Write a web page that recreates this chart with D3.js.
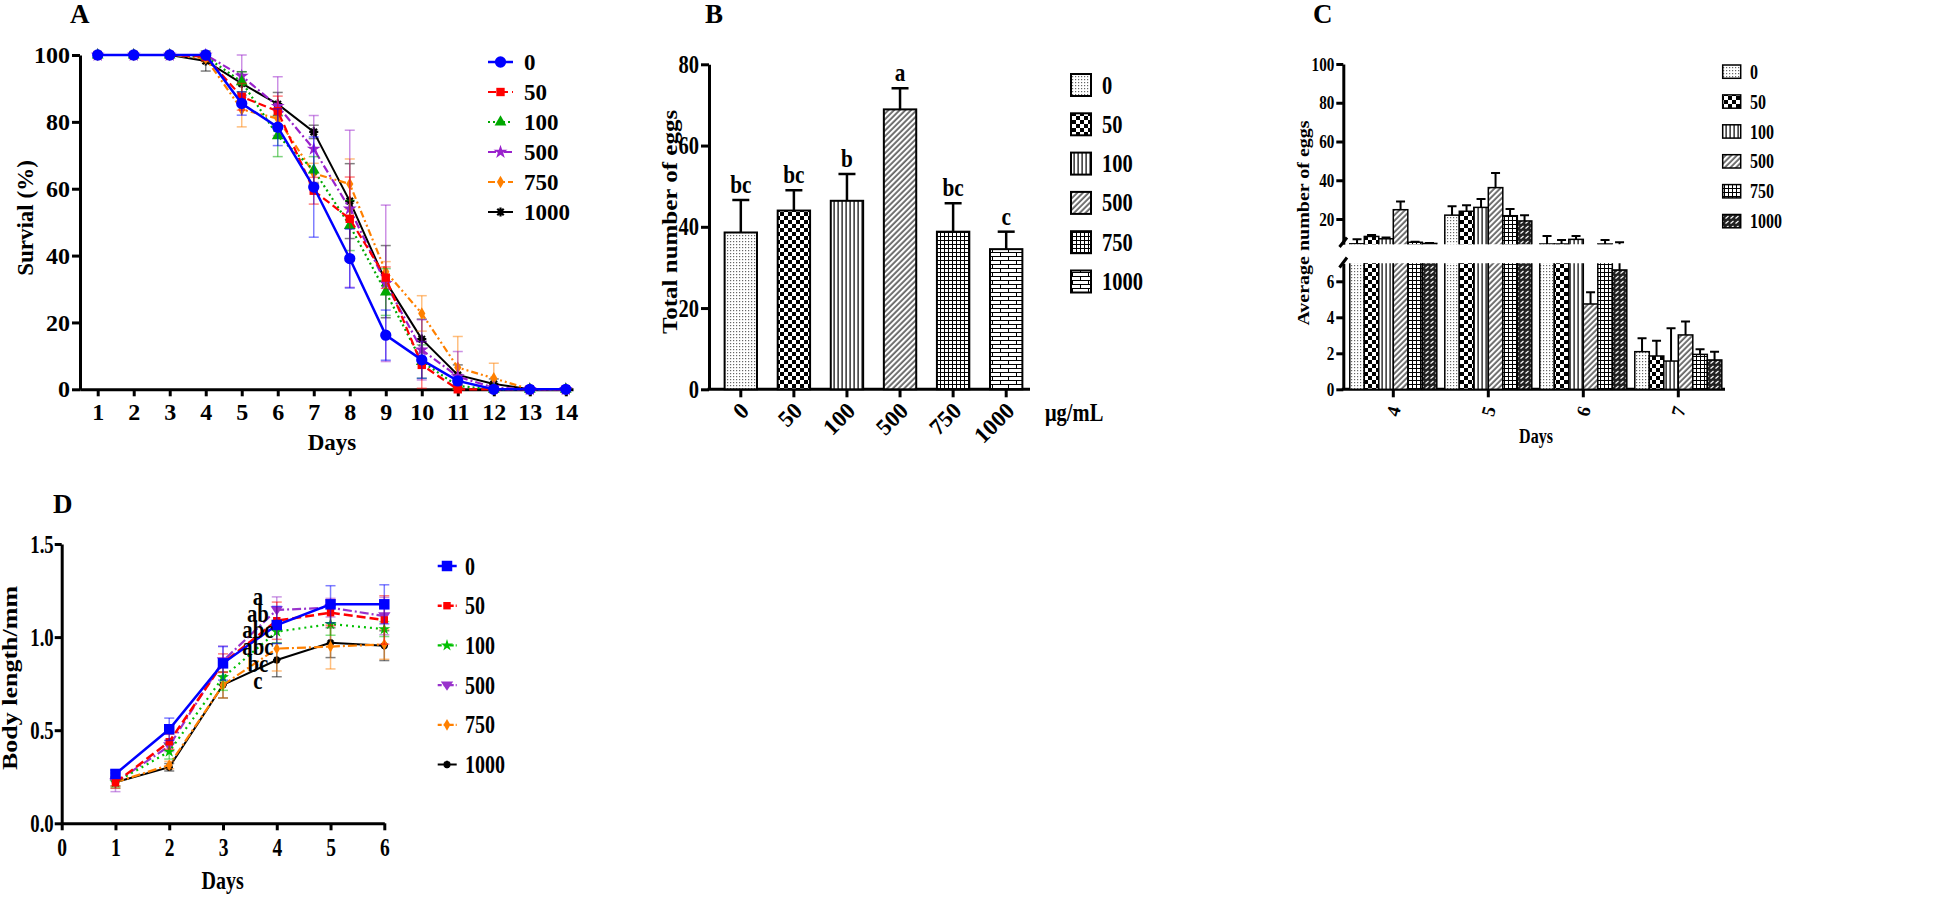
<!DOCTYPE html>
<html>
<head>
<meta charset="utf-8">
<script src="https://cdn.jsdelivr.net/npm/d3@7"></script>
<style>
  body { margin: 0; background: #fff; }
  svg text { font-family: "Liberation Serif", "Times New Roman", serif; font-weight: bold; fill: #000; }
</style>
</head>
<body>
<svg id="fig" width="1946" height="902"></svg>
<script>
const concs = ["0", "50", "100", "500", "750", "1000"];

// ---- A: survival (%) per day
const daysA = [1, 2, 3, 4, 5, 6, 7, 8, 9, 10, 11, 12, 13, 14];
const surv0 = [100, 100, 100, 100, 85.5, 78.4, 60.5, 39.1, 16.2, 8.8, 2.5, 0, 0, 0];
const surv0Err = [0, 0, 0, 0, 3.5, 5.5, 15, 8.8, 7.5, 5.5, 1.2, 0, 0, 0];
const surv50 = [100, 100, 100, 99.5, 87.5, 83.2, 59.4, 51, 33.4, 7.3, 0, 0, 0, 0];
const surv50Err = [0, 0, 0, 0.5, 4, 4.5, 4, 12.5, 3.2, 7, 0.5, 0, 0, 0];
const surv100 = [100, 100, 100, 99.5, 92, 75.8, 65.6, 49, 29.1, 8.3, 1, 0, 0, 0];
const surv100Err = [0, 0, 0, 0.5, 3, 6.2, 4, 7.5, 7, 5, 1, 0, 0, 0];
const surv500 = [100, 100, 100, 100, 93.7, 84.7, 71.9, 54, 31.7, 11.8, 3.8, 0.5, 0, 0];
const surv500Err = [0, 0, 0, 0, 6.3, 8.8, 10, 23.5, 23.4, 9, 7.5, 0.5, 0, 0];
const surv750 = [100, 100, 100, 99, 83.7, 81, 64.6, 61.4, 35.2, 22.7, 6.5, 3.3, 0, 0];
const surv750Err = [0, 0, 0, 1, 5.2, 3, 3, 7.5, 3, 5.3, 9.3, 4.5, 0, 0];
const surv1000 = [100, 100, 100, 98.2, 91.5, 85.3, 77, 56.3, 32.2, 15, 4.3, 1.6, 0, 0];
const surv1000Err = [0, 0, 0, 3, 3.5, 3.5, 2, 11.2, 10.8, 6, 3, 1.5, 0, 0];

// ---- B: total number of eggs
const eggTotal = [38.6, 44, 46.4, 68.9, 38.8, 34.5];
const eggTotalErr = [8, 5, 6.6, 5.2, 7, 4.3];
const eggLetters = ["bc", "bc", "b", "a", "bc", "c"];

// ---- C: average number of eggs per day
const daysC = ["4", "5", "6", "7"];
const eggs0 = [7.2, 22, 7.1, 2.09], eggs0Err = [2.4, 4.6, 4.1, 0.74];
const eggs50 = [11, 24, 7.1, 1.85], eggs50Err = [0.8, 3.1, 2.1, 0.85];
const eggs100 = [9.8, 26, 9.5, 1.57], eggs100Err = [0.6, 4.3, 1.7, 1.82];
const eggs500 = [24.8, 36.2, 4.74, 3.02], eggs500Err = [4.2, 7.5, 0.65, 0.74];
const eggs750 = [8, 21.7, 7.1, 1.94], eggs750Err = [0.3, 3.5, 2.1, 0.28];
const eggs1000 = [7.4, 19, 6.63, 1.63], eggs1000Err = [0.2, 2.9, 1.4, 0.46];

// ---- D: body length (mm)
const daysD = [1, 2, 3, 4, 5, 6];
const len0 = [0.265, 0.505, 0.859, 1.065, 1.176, 1.176], len0Err = [0.02, 0.06, 0.09, 0.1, 0.1, 0.105];
const len50 = [0.218, 0.438, 0.86, 1.088, 1.131, 1.092], len50Err = [0.03, 0.04, 0.05, 0.1, 0.07, 0.13];
const len100 = [0.22, 0.385, 0.784, 1.029, 1.07, 1.043], len100Err = [0.03, 0.04, 0.07, 0.06, 0.06, 0.04];
const len500 = [0.22, 0.415, 0.872, 1.146, 1.158, 1.113], len500Err = [0.05, 0.03, 0.08, 0.07, 0.05, 0.1];
const len750 = [0.22, 0.313, 0.743, 0.938, 0.949, 0.961], len750Err = [0.02, 0.02, 0.07, 0.12, 0.12, 0.08];
const len1000 = [0.22, 0.301, 0.743, 0.877, 0.97, 0.954], len1000Err = [0.02, 0.02, 0.07, 0.09, 0.08, 0.08];
const lenLetters = ["a", "ab", "abc", "abc", "bc", "c"];

const svg = d3.select("#fig");
svg.append("rect").attr("width", 1946).attr("height", 902).attr("fill", "#fff");
const defs = svg.append("defs");

// asterisk marker (stroked)
const symAsterisk = {
    draw(ctx, size) {
        const r = Math.sqrt(size) / 1.7;
        for (let k = 0; k < 4; k++) {
            const a = k * Math.PI / 4;
            ctx.moveTo(r * Math.cos(a), r * Math.sin(a));
            ctx.lineTo(-r * Math.cos(a), -r * Math.sin(a));
        }
    }
};
const symTriDown = {
    draw(ctx, size) {
        const r = Math.sqrt(size / 1.3);
        ctx.moveTo(-r, -r * 0.6);
        ctx.lineTo(r, -r * 0.6);
        ctx.lineTo(0, r * 0.9);
        ctx.closePath();
    }
};

function txt(g, x, y, s, size, opt = {}) {
    const t = g.append("text")
        .attr("font-size", size)
        .attr("text-anchor", opt.anchor || "start")
        .attr("transform", `translate(${x},${y})` + (opt.rotate ? ` rotate(${opt.rotate})` : "") +
            ` scale(${opt.sx || 1},${opt.sy || 1})`)
        .text(s);
    if (opt.dy) t.attr("dy", opt.dy);
    return t;
}

function styleAxis(sel, size, sx, sw) {
    sel.attr("font-family", null).attr("font-size", null);
    sel.selectAll("path.domain").attr("stroke-width", sw);
    sel.selectAll(".tick line").attr("stroke-width", sw);
    sel.selectAll(".tick text").attr("font-size", size);
    if (sx !== 1) {
        sel.selectAll(".tick text").each(function () {
            const t = d3.select(this);
            t.attr("x", +t.attr("x") / sx).attr("transform", `scale(${sx},1)`);
        });
    }
}

// patterns for bar charts
function pattern(id, w, h, draw, transform) {
    const p = defs.append("pattern").attr("id", id)
        .attr("patternUnits", "userSpaceOnUse").attr("width", w).attr("height", h);
    if (transform) p.attr("patternTransform", transform);
    p.append("rect").attr("width", w).attr("height", h).attr("fill", "#fff");
    draw(p);
}
pattern("p0", 3, 3, p => p.append("rect").attr("x", 1).attr("y", 1).attr("width", 1.2).attr("height", 1.2).attr("fill", "#666"));
pattern("p50", 8, 8, p => {
    p.append("rect").attr("width", 4).attr("height", 4);
    p.append("rect").attr("x", 4).attr("y", 4).attr("width", 4).attr("height", 4);
});
pattern("p100", 4, 4, p => p.append("rect").attr("x", 1.5).attr("width", 1.2).attr("height", 4));
pattern("p500", 4, 4, p => p.append("rect").attr("x", 1.5).attr("width", 1.1).attr("height", 4), "rotate(45)");
pattern("p750", 4, 4, p => {
    p.append("rect").attr("width", 4).attr("height", 1);
    p.append("rect").attr("width", 1).attr("height", 4);
});
pattern("p1000", 16, 8, p => p.append("path")
    .attr("d", "M0,0.5H16M0,4.5H16M0.5,0.5V4.5M8.5,4.5V8")
    .attr("stroke", "#000").attr("stroke-width", 1).attr("fill", "none"));
pattern("pc1000", 5, 5, p => {
    p.select("rect").attr("fill", "#222");
    p.append("path").attr("d", "M0.5,3.5L3.5,1").attr("stroke", "#fff").attr("stroke-width", 1.1);
});
const patsB = ["p0", "p50", "p100", "p500", "p750", "p1000"];
const patsC = ["p0", "p50", "p100", "p500", "p750", "pc1000"];

// ================= A =================
const gA = svg.append("g");
const xA = d3.scaleLinear().domain([0.5, 14.2]).range([79.7, 573]);
const yA = d3.scaleLinear().domain([0, 100]).range([389.3, 55]);

const seriesA = [
    { name: "0", v: surv0, e: surv0Err, color: "#0000ff", sym: d3.symbolCircle, size: 100, dash: null, w: 2.5 },
    { name: "50", v: surv50, e: surv50Err, color: "#ff0000", sym: d3.symbolSquare, size: 70, dash: "8,4", w: 2.2 },
    { name: "100", v: surv100, e: surv100Err, color: "#00a800", sym: d3.symbolTriangle, size: 60, dash: "2,3", w: 2.2 },
    { name: "500", v: surv500, e: surv500Err, color: "#9922cc", sym: d3.symbolStar, size: 60, dash: "8,3,2,3", w: 2.2 },
    { name: "750", v: surv750, e: surv750Err, color: "#ff8000", sym: d3.symbolDiamond, size: 45, dash: "7,3,2,3,2,3", w: 2.2 },
    { name: "1000", v: surv1000, e: surv1000Err, color: "#000000", sym: symAsterisk, size: 60, dash: null, w: 2, stroke: true }
];

gA.append("g").attr("transform", "translate(0,389.3)")
    .call(d3.axisBottom(xA).tickValues(daysA).tickSize(7).tickPadding(7).tickSizeOuter(0))
    .call(styleAxis, 24, 1, 3);
gA.append("g").attr("transform", "translate(80,0)")
    .call(d3.axisLeft(yA).tickValues([0, 20, 40, 60, 80, 100]).tickSize(8).tickPadding(2).tickSizeOuter(0))
    .call(styleAxis, 24, 1, 3);

function drawMarker(g, s, x, y) {
    const p = g.append("path")
        .attr("d", d3.symbol(s.sym, s.size)())
        .attr("transform", `translate(${x},${y})`);
    if (s.stroke) p.attr("fill", "none").attr("stroke", s.color).attr("stroke-width", 2.2);
    else p.attr("fill", s.color);
}

function drawLineSeries(g, series, days, x, y, cap) {
    series.slice().reverse().forEach(s => {
        const pts = days.map((d, i) => ({ d, v: s.v[i], e: s.e[i] }));
        const eg = g.append("g").attr("stroke", s.color).attr("stroke-opacity", 0.5).attr("stroke-width", 1.5);
        pts.filter(p => p.e > 0).forEach(p => {
            const cx = x(p.d), lo = y(Math.max(0, p.v - p.e)), hi = y(p.v + p.e);
            eg.append("line").attr("x1", cx).attr("x2", cx).attr("y1", lo).attr("y2", hi);
            eg.append("line").attr("x1", cx - cap).attr("x2", cx + cap).attr("y1", hi).attr("y2", hi);
            eg.append("line").attr("x1", cx - cap).attr("x2", cx + cap).attr("y1", lo).attr("y2", lo);
        });
        g.append("path").datum(pts)
            .attr("fill", "none").attr("stroke", s.color).attr("stroke-width", s.w)
            .attr("stroke-dasharray", s.dash)
            .attr("d", d3.line().x(p => x(p.d)).y(p => y(p.v)));
        pts.forEach(p => drawMarker(g, s, x(p.d), y(p.v)));
    });
}
drawLineSeries(gA, seriesA, daysA, xA, yA, 5);

seriesA.forEach((s, i) => {
    const cy = 62 + i * 30;
    gA.append("line").attr("x1", 488).attr("x2", 513).attr("y1", cy).attr("y2", cy)
        .attr("stroke", s.color).attr("stroke-width", s.w).attr("stroke-dasharray", s.dash);
    drawMarker(gA, s, 500.5, cy);
    txt(gA, 524, cy + 8, s.name, 23);
});
txt(gA, 70, 23, "A", 27);
txt(gA, 332, 450, "Days", 23, { anchor: "middle" });
txt(gA, 25, 218, "Survial (%)", 23, { anchor: "middle", rotate: -90, dy: "0.35em" });

// ================= B =================
const gB = svg.append("g");
const xB = d3.scaleBand().domain(concs).range([714, 1033]).paddingInner(0.39).paddingOuter(0.2);
const yB = d3.scaleLinear().domain([0, 80]).range([389.3, 64.3]);

gB.append("g").attr("transform", "translate(709,0)")
    .call(d3.axisLeft(yB).tickValues([0, 20, 40, 60, 80]).tickSize(8).tickPadding(2).tickSizeOuter(0))
    .call(styleAxis, 25, 0.82, 3);
const axB = gB.append("g").attr("transform", "translate(0,389.3)")
    .call(d3.axisBottom(xB).tickSize(8).tickSizeOuter(0))
    .call(styleAxis, 23, 1, 3);
axB.select("path.domain").remove();
axB.selectAll(".tick text").attr("text-anchor", "end").attr("x", 0).attr("y", 0)
    .attr("dy", "0.35em").attr("transform", "translate(4,17) rotate(-45)");
gB.append("line").attr("x1", 707.5).attr("x2", 1030).attr("y1", 389.3).attr("y2", 389.3)
    .attr("stroke", "#000").attr("stroke-width", 3);

const barsB = concs.map((c, i) => ({ c, v: eggTotal[i], e: eggTotalErr[i], lab: eggLetters[i], pat: patsB[i] }));
barsB.forEach(b => {
    const cx = xB(b.c) + xB.bandwidth() / 2, top = yB(b.v + b.e);
    gB.append("line").attr("x1", cx).attr("x2", cx).attr("y1", yB(b.v)).attr("y2", top)
        .attr("stroke", "#000").attr("stroke-width", 2.5);
    gB.append("line").attr("x1", cx - 8.5).attr("x2", cx + 8.5).attr("y1", top).attr("y2", top)
        .attr("stroke", "#000").attr("stroke-width", 2.5);
    gB.append("rect").attr("x", xB(b.c)).attr("width", xB.bandwidth())
        .attr("y", yB(b.v)).attr("height", yB(0) - yB(b.v))
        .attr("fill", `url(#${b.pat})`).attr("stroke", "#000").attr("stroke-width", 2);
    txt(gB, cx, top - 7, b.lab, 25, { anchor: "middle", sx: 0.85 });
});
concs.forEach((c, i) => {
    const cy = 85 + i * 39.3;
    gB.append("rect").attr("x", 1071).attr("y", cy - 11).attr("width", 20).attr("height", 22)
        .attr("fill", `url(#${patsB[i]})`).attr("stroke", "#000").attr("stroke-width", 2);
    txt(gB, 1102, cy + 8.5, c, 25, { sx: 0.82 });
});
txt(gB, 705, 23, "B", 27);
txt(gB, 1045, 421, "μg/mL", 25, { sx: 0.82 });
txt(gB, 670, 222, "Total number of eggs", 25, { anchor: "middle", rotate: -90, dy: "0.35em", sy: 0.85 });

// ================= C =================
const gC = svg.append("g");
const xC = d3.scaleBand().domain(daysC).range([1345.8, 1725.8]).paddingInner(0.084).paddingOuter(0.042);
const xCi = d3.scaleBand().domain(concs).range([0, xC.bandwidth()]);
const yCl = d3.scaleLinear().domain([0, 7]).range([389.3, 263.3]);
const yCu = d3.scaleLinear().domain([7, 100]).range([244.2, 64]);

gC.append("g").attr("transform", "translate(1343.3,0)")
    .call(d3.axisLeft(yCl).tickValues([0, 2, 4, 6]).tickFormat(d3.format("d")).tickSize(7).tickPadding(2).tickSizeOuter(0))
    .call(styleAxis, 19, 0.8, 3);
gC.append("g").attr("transform", "translate(1343.3,0)")
    .call(d3.axisLeft(yCu).tickValues([20, 40, 60, 80, 100]).tickFormat(d3.format("d")).tickSize(7).tickPadding(2).tickSizeOuter(0))
    .call(styleAxis, 19, 0.8, 3);
const axC = gC.append("g").attr("transform", "translate(0,389.3)")
    .call(d3.axisBottom(xC).tickSize(8).tickSizeOuter(0))
    .call(styleAxis, 19, 1, 3);
axC.select("path.domain").remove();
axC.selectAll(".tick text").attr("text-anchor", "middle").attr("x", 0).attr("y", 0)
    .attr("dy", "0.35em").attr("transform", "translate(0,22) rotate(-75)");
gC.append("line").attr("x1", 1341.8).attr("x2", 1725).attr("y1", 389.3).attr("y2", 389.3)
    .attr("stroke", "#000").attr("stroke-width", 3);
// axis break marks
gC.append("path").attr("d", "M1339.5,247L1347,237.5M1339.5,267.5L1347,257.5")
    .attr("stroke", "#000").attr("stroke-width", 3).attr("fill", "none");

defs.append("clipPath").attr("id", "clipCl").append("rect")
    .attr("x", 1330).attr("y", 263.3).attr("width", 420).attr("height", 135);
defs.append("clipPath").attr("id", "clipCu").append("rect")
    .attr("x", 1330).attr("y", 50).attr("width", 420).attr("height", 194.2);

const seriesC = [
    { v: eggs0, e: eggs0Err }, { v: eggs50, e: eggs50Err }, { v: eggs100, e: eggs100Err },
    { v: eggs500, e: eggs500Err }, { v: eggs750, e: eggs750Err }, { v: eggs1000, e: eggs1000Err }
];
const barsC = [];
daysC.forEach((d, j) => concs.forEach((c, i) =>
    barsC.push({ d, c, v: seriesC[i].v[j], e: seriesC[i].e[j], pat: patsC[i] })));

[{ y: yCl, clip: "clipCl", upper: false }, { y: yCu, clip: "clipCu", upper: true }].forEach(seg => {
    const g = gC.append("g").attr("clip-path", `url(#${seg.clip})`);
    barsC.forEach(b => {
        const x0 = xC(b.d) + xCi(b.c), w = xCi.bandwidth(), cx = x0 + w / 2;
        const top = seg.y(b.v + b.e);
        g.append("line").attr("x1", cx).attr("x2", cx).attr("y1", seg.y(b.v)).attr("y2", top)
            .attr("stroke", "#000").attr("stroke-width", 2);
        g.append("line").attr("x1", cx - 4.5).attr("x2", cx + 4.5).attr("y1", top).attr("y2", top)
            .attr("stroke", "#000").attr("stroke-width", 2);
        if (seg.upper && b.v <= 7) return;
        const yb = seg.upper ? seg.y(7) + 4 : seg.y(0);
        g.append("rect").attr("x", x0).attr("width", w)
            .attr("y", seg.y(b.v)).attr("height", yb - seg.y(b.v))
            .attr("fill", `url(#${b.pat})`).attr("stroke", "#000").attr("stroke-width", 1.5);
    });
});
concs.forEach((c, i) => {
    const cy = 71.7 + i * 29.9;
    gC.append("rect").attr("x", 1722.7).attr("y", cy - 6.7).attr("width", 18).attr("height", 13.3)
        .attr("fill", `url(#${patsC[i]})`).attr("stroke", "#000").attr("stroke-width", 1.5);
    txt(gC, 1750, cy + 7, c, 20, { sx: 0.8 });
});
txt(gC, 1313, 23, "C", 27);
txt(gC, 1536, 443, "Days", 20, { anchor: "middle", sx: 0.8 });
txt(gC, 1303, 223, "Average number of eggs", 20, { anchor: "middle", rotate: -90, dy: "0.35em", sy: 0.85 });

// ================= D =================
const gD = svg.append("g");
const xD = d3.scaleLinear().domain([0, 6]).range([61.7, 384.3]);
const yD = d3.scaleLinear().domain([0, 1.5]).range([823.3, 544]);

gD.append("g").attr("transform", "translate(0,823.3)")
    .call(d3.axisBottom(xD).tickValues([0, 1, 2, 3, 4, 5, 6]).tickFormat(d3.format("d")).tickSize(7).tickPadding(8).tickSizeOuter(0))
    .call(styleAxis, 25, 0.78, 3);
gD.append("g").attr("transform", "translate(61.7,0)")
    .call(d3.axisLeft(yD).tickValues([0, 0.5, 1, 1.5]).tickFormat(d3.format(".1f")).tickSize(7).tickPadding(1).tickSizeOuter(0))
    .call(styleAxis, 25, 0.75, 3);

const seriesD = [
    { name: "0", v: len0, e: len0Err, color: "#0000ff", sym: d3.symbolSquare, size: 110, dash: null, w: 2.5 },
    { name: "50", v: len50, e: len50Err, color: "#ff0000", sym: d3.symbolSquare, size: 55, dash: "9,4", w: 2.5 },
    { name: "100", v: len100, e: len100Err, color: "#00c000", sym: d3.symbolStar, size: 45, dash: "2,4", w: 2.2 },
    { name: "500", v: len500, e: len500Err, color: "#9933cc", sym: symTriDown, size: 50, dash: "9,3,2,3", w: 2.2 },
    { name: "750", v: len750, e: len750Err, color: "#ff8000", sym: d3.symbolDiamond, size: 40, dash: "9,3,2,3", w: 2.2 },
    { name: "1000", v: len1000, e: len1000Err, color: "#000000", sym: symAsterisk, size: 40, dash: null, w: 2, stroke: true }
];
drawLineSeries(gD, seriesD, daysD, xD, yD, 5);

lenLetters.forEach((l, i) => txt(gD, xD(3.65), 605 + i * 16.7, l, 26, { anchor: "middle", sx: 0.8 }));

seriesD.forEach((s, i) => {
    const cy = 566 + i * 39.7;
    gD.append("line").attr("x1", 437.7).attr("x2", 456.7).attr("y1", cy).attr("y2", cy)
        .attr("stroke", s.color).attr("stroke-width", s.w).attr("stroke-dasharray", s.dash ? "4,2" : null);
    drawMarker(gD, s, 447, cy);
    txt(gD, 465, cy + 8.5, s.name, 25, { sx: 0.8 });
});
txt(gD, 53, 513, "D", 27);
txt(gD, 222.7, 889, "Days", 25, { anchor: "middle", sx: 0.8 });
txt(gD, 10, 678, "Body length/mm", 26, { anchor: "middle", rotate: -90, dy: "0.35em", sy: 0.8 });
</script>
</body>
</html>
